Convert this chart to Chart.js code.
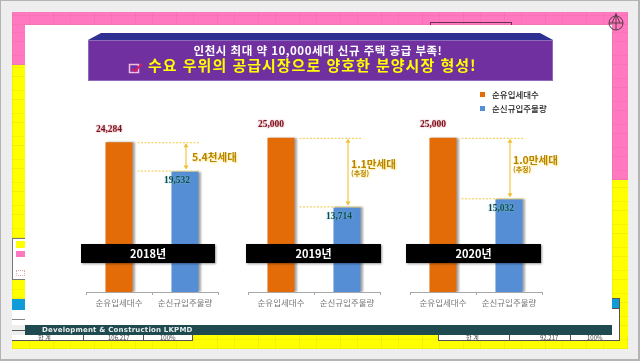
<!DOCTYPE html>
<html lang="ko"><head><meta charset="utf-8">
<script src="https://cdn.jsdelivr.net/npm/chart.js@4/dist/chart.umd.min.js"></script>
<style>
html,body{margin:0;padding:0;width:640px;height:361px;overflow:hidden;background:#eee}
#stage{position:absolute;left:0;top:0;width:640px;height:361px;filter:blur(.45px);font-family:"Noto Sans CJK KR","Noto Sans",sans-serif}
.a{position:absolute}
.frame{left:0;top:0;width:637px;height:358px;border:1px solid #b4b4b4;border-right-width:2px;border-bottom-width:2px}
.grid{background-image:repeating-linear-gradient(90deg,rgba(120,90,60,.09) 0 1px,transparent 1px 17px,rgba(120,90,60,.07) 17px 18px,transparent 18px 41px),repeating-linear-gradient(0deg,rgba(120,90,60,.09) 0 1px,transparent 1px 9px,rgba(120,90,60,.07) 9px 10px,transparent 10px 23px)}
canvas{position:absolute}
.t{position:absolute;white-space:nowrap;line-height:1}
</style></head><body>
<div id="stage">
<div class="a frame"></div>
<div class="a grid" style="left:12px;top:12px;width:616px;height:13px;background-color:#ff78c0"></div>
<div class="a grid" style="left:12px;top:25px;width:13px;height:40px;background-color:#ff78c0"></div>
<div class="a grid" style="left:612px;top:25px;width:16px;height:155px;background-color:#ff78c0"></div>
<div class="a grid" style="left:12px;top:65px;width:13px;height:173px;background-color:#ffff00"></div>
<div class="a grid" style="left:612px;top:180px;width:16px;height:169px;background-color:#ffff00"></div>
<div class="a grid" style="left:12px;top:280px;width:13px;height:19px;background-color:#ffff00"></div>
<div class="a grid" style="left:12px;top:335px;width:616px;height:14px;background-color:#ffff00"></div>
<div class="a" style="left:12px;top:238px;width:13px;height:42px;background:#fff;border:1px solid #777;border-right:0;box-sizing:border-box"></div>
<div class="a" style="left:16px;top:241px;width:9px;height:7px;background:#ffff00"></div>
<div class="a" style="left:16px;top:251px;width:9px;height:6px;background:#ff78c0"></div>
<div class="a" style="left:16px;top:270px;width:9px;height:6px;border:1px dotted #e0b0b0;box-sizing:border-box"></div>
<div class="a" style="left:12px;top:299px;width:13px;height:11px;background:#0f9bd7"></div>
<div class="a" style="left:12px;top:310px;width:13px;height:15px;background:#fff"></div>
<div class="a" style="left:12px;top:319px;width:13px;height:1px;background:#888"></div>
<div class="a" style="left:12px;top:330px;width:13px;height:1px;background:#555"></div>
<div class="a" style="left:612px;top:298px;width:8px;height:11px;background:#0f9bd7;border:1px solid #555;border-left:0;box-sizing:border-box"></div>
<div class="a" style="left:612px;top:309px;width:8px;height:32px;background:#fff;border-right:1px solid #555;box-sizing:border-box"></div>
<div class="a" style="left:12px;top:335px;width:181px;height:6px;background:#fff;border-bottom:1px solid #555;border-right:1px solid #555;box-sizing:border-box"></div>
<div class="a" style="left:83px;top:335px;width:1px;height:6px;background:#555"></div>
<div class="a" style="left:143px;top:335px;width:1px;height:6px;background:#555"></div>
<div class="a" style="left:438px;top:335px;width:182px;height:6px;background:#fff;border:1px solid #555;border-top:0;box-sizing:border-box"></div>
<div class="a" style="left:509px;top:335px;width:1px;height:6px;background:#555"></div>
<div class="a" style="left:570px;top:335px;width:1px;height:6px;background:#555"></div>
<div class="t" style="left:38px;top:335px;font-size:6px;color:#444">합 계</div>
<div class="t" style="left:108px;top:335px;font-size:6px;color:#444">106,217</div>
<div class="t" style="left:160px;top:335px;font-size:6px;color:#444">100%</div>
<div class="t" style="left:466px;top:335px;font-size:6px;color:#444">합 계</div>
<div class="t" style="left:540px;top:335px;font-size:6px;color:#444">92,217</div>
<div class="t" style="left:587px;top:335px;font-size:6px;color:#444">100%</div>

<div class="a" style="left:25px;top:25px;width:587px;height:300px;background:#fff"></div>
<div class="a" style="left:430px;top:22px;width:82px;height:3px;border:1px solid #6a3050;border-bottom:0;box-sizing:border-box"></div>
<svg class="a" style="left:606px;top:12px" width="20" height="20"><circle cx="10" cy="11" r="7" fill="none" stroke="#5a3a4a"/><path d="M10 1V18M3 11H17M10 2L6 11M10 2L14 11" fill="none" stroke="#5a3a4a"/></svg>

<svg class="a" style="left:88px;top:33px" width="466" height="48"><path d="M0 7L13 0H452L465 7Z" fill="#2e3192"/><rect x="0" y="7" width="465" height="41" fill="#7030a0"/><rect x=".5" y="7.5" width="464" height="40" fill="none" stroke="#9068b8"/></svg>
<div class="t" id="h1" style="left:88px;width:465px;top:45px;text-align:center;font-size:11.5px;font-weight:700;color:#fff;letter-spacing:.5px;padding-right:5px;box-sizing:border-box"></div>
<div class="t" id="h2" style="left:148px;top:57px;font-size:15px;font-weight:700;color:#ffff00;letter-spacing:1px"></div>
<svg class="a" style="left:128px;top:62px" width="16" height="12"><rect x="1.5" y="2.5" width="9" height="8" fill="none" stroke="#f0c0e0" stroke-width="1.5"/><path d="M4 7L7 9L14 2" fill="none" stroke="#d81b60" stroke-width="2"/></svg>

<div class="a" style="left:480px;top:92px;width:5px;height:5px;background:#e36c09"></div>
<div class="a" style="left:480px;top:106px;width:5px;height:5px;background:#558ed5"></div>
<div class="t" id="l1" style="left:492px;top:90px;font-size:8.5px;color:#222;font-weight:500"></div>
<div class="t" id="l2" style="left:492px;top:104px;font-size:8.5px;color:#222;font-weight:500"></div>

<canvas id="c0" width="172" height="207" style="left:76px;top:107px;width:172px;height:207px"></canvas>
<canvas id="c1" width="172" height="207" style="left:238px;top:107px;width:172px;height:207px"></canvas>
<canvas id="c2" width="172" height="207" style="left:400px;top:107px;width:172px;height:207px"></canvas>

<div class="a" style="left:25px;top:325px;width:587px;height:10px;background:#1f4a4f"></div>
<div class="t" id="foot" style="left:42px;top:325px;font-size:7px;font-weight:700;color:#e8eeee;letter-spacing:.2px;font-family:'DejaVu Sans',sans-serif;line-height:10px"></div>
</div>
<script>
const categories = ['순유입세대수', '순신규입주물량'];
const years = ['2018년', '2019년', '2020년'];
const incoming = [24284, 25000, 25000];
const supply = [19532, 13714, 15032];
const gapLabels = ['5.4천세대', '1.1만세대', '1.0만세대'];
const gapNotes = ['', '(추정)', '(추정)'];
const headline = '인천시 최대 약 10,000세대 신규 주택 공급 부족!';
const subhead = '수요 우위의 공급시장으로 양호한 분양시장 형성!';
const footer = 'Development & Construction LKPMD';
const colors = ['#e36c09', '#558ed5'];

document.getElementById('h1').textContent = headline;
document.getElementById('h2').textContent = subhead;
document.getElementById('foot').textContent = footer;
document.getElementById('l1').textContent = categories[0];
document.getElementById('l2').textContent = categories[1];

const KR = '"Noto Sans CJK KR"';
const bandX = [[5, 139], [8, 143], [6, 141]];

function marks(i) {
  return {
    id: 'marks' + i,
    beforeDatasetsDraw(c) { const g = c.ctx; g.save(); g.shadowColor = 'rgba(0,0,0,.35)'; g.shadowBlur = 2; g.shadowOffsetX = 2; },
    afterDatasetsDraw(c) {
      const g = c.ctx; g.restore();
      const y = c.scales.y, m = c.getDatasetMeta(0).data, a = c.chartArea;
      const top = y.getPixelForValue(incoming[i]), low = y.getPixelForValue(supply[i]);
      const x0 = m[0].x + 13.5 + 5, x1 = m[1].x + 13.5 + 2, ax = m[1].x + 1;
      g.save();
      g.strokeStyle = '#f0c840'; g.lineWidth = 1; g.setLineDash([2, 1.5]);
      [top, low - 1].forEach(v => { g.beginPath(); g.moveTo(x0, v + .5); g.lineTo(x1, v + .5); g.stroke(); });
      g.setLineDash([]); g.strokeStyle = '#f0c840'; g.lineWidth = 1.2;
      g.beginPath(); g.moveTo(ax, top + 2); g.lineTo(ax, low - 3); g.stroke();
      g.fillStyle = '#f0c030';
      [[top + 1, 1], [low - 2, -1]].forEach(([v, d]) => { g.beginPath(); g.moveTo(ax, v); g.lineTo(ax - 2.5, v + d * 4); g.lineTo(ax + 2.5, v + d * 4); g.closePath(); g.fill(); });

      g.textBaseline = 'middle'; g.textAlign = 'left';
      const mid = (top + low) / 2, note = gapNotes[i];
      g.shadowColor = '#ffe680'; g.shadowBlur = 2; g.shadowOffsetX = 1; g.shadowOffsetY = 1;
      g.fillStyle = '#b98500'; g.font = '700 10.5px ' + KR;
      g.fillText(gapLabels[i], ax + (note ? 3 : 6), note ? mid - 9 : mid);
      if (note) { g.font = '700 7px ' + KR; g.fillText(note, ax + 3, mid + 1); }

      g.textAlign = 'center'; g.font = '700 9.5px "Liberation Serif"';
      g.shadowOffsetX = 0; g.shadowOffsetY = 0; g.shadowBlur = 2;
      g.shadowColor = '#d88'; g.fillStyle = '#7a1424';
      g.fillText(incoming[i].toLocaleString('en-US'), m[0].x - 10, top - 13);
      g.shadowColor = '#7cc'; g.fillStyle = '#174a50';
      g.fillText(supply[i].toLocaleString('en-US'), m[1].x - 8, low + 9);

      g.shadowColor = 'rgba(0,0,0,.4)'; g.shadowBlur = 2; g.shadowOffsetX = 1; g.shadowOffsetY = 1;
      const by = a.bottom - 48;
      g.fillStyle = '#000'; g.fillRect(bandX[i][0], by, bandX[i][1] - bandX[i][0], 19);
      g.shadowColor = 'transparent';
      g.fillStyle = '#fff'; g.font = '700 11px "Noto Sans CJK KR"';
      g.fillText(years[i], (bandX[i][0] + bandX[i][1]) / 2, by + 10);
      g.restore();
    }
  };
}

function build(i) {
  new Chart(document.getElementById('c' + i), {
    type: 'bar',
    data: { labels: categories, datasets: [{ data: [incoming[i], supply[i]], backgroundColor: colors, barPercentage: .41, categoryPercentage: 1 }] },
    plugins: [marks(i)],
    options: {
      responsive: false, animation: false, devicePixelRatio: 1,
      layout: { padding: { left: 10, right: 30, top: 0, bottom: 0 } },
      plugins: { legend: { display: false }, tooltip: { enabled: false } },
      scales: {
        y: { display: false, min: 0, max: 30000 },
        x: {
          afterFit(s) { s.height = 22; },
          offset: true,
          border: { color: '#a8a8a8', width: 1 },
          grid: { drawOnChartArea: false, color: '#a8a8a8', tickLength: 3 },
          ticks: { autoSkip: false, maxRotation: 0, padding: 3, color: '#777', font: { size: 8.5, family: KR } }
        }
      }
    }
  });
}
years.forEach((_, i) => build(i));
</script>
</body></html>
